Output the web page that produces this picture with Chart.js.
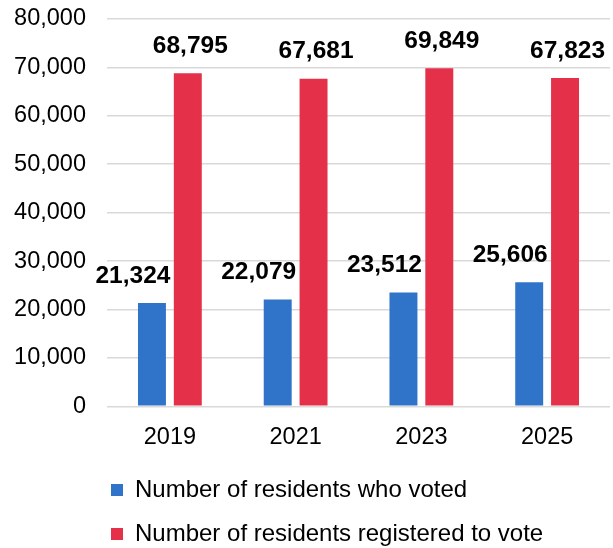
<!DOCTYPE html>
<html lang="en">
<head>
    <meta charset="UTF-8">
    <title>Residents voting</title>
    <script src="https://cdn.jsdelivr.net/npm/chart.js"></script>
    <style>
        html, body { margin: 0; padding: 0; background: #fff; }
        .box { width: 613px; height: 548px; }
    </style>
</head>
<body>
    <div class="box">
        <canvas id="grafico" width="613" height="548"></canvas>
    </div>
<script>
    // dados do grafico
    const anos = ["2019", "2021", "2023", "2025"];
    const votaram = [21324, 22079, 23512, 25606];
    const registrados = [68795, 67681, 69849, 67823];
    const ticksY = [0, 10000, 20000, 30000, 40000, 50000, 60000, 70000, 80000];

    const fonte = "'Liberation Sans', Arial, sans-serif";

    // rotulos em cima das barras (desenhados na mao)
    const rotulos = {
        id: 'rotulos',
        afterDatasetsDraw(chart, args, opts) {
            const ctx = chart.ctx;
            ctx.save();
            ctx.font = 'bold 24.5px ' + fonte;
            ctx.fillStyle = '#000';
            ctx.textAlign = 'center';
            ctx.textBaseline = 'middle';
            chart.data.datasets.forEach(function (ds, d) {
                const meta = chart.getDatasetMeta(d);
                const dx = opts.shift[d] || 0;
                meta.data.forEach(function (bar, i) {
                    const txt = ds.data[i].toLocaleString('en-US');
                    ctx.fillText(txt, bar.x + dx, bar.y - opts.lift);
                });
            });
            ctx.restore();
        }
    };

    // empurra a legenda pra ficar alinhada com o grafico
    const moveLegenda = {
        id: 'moveLegenda',
        afterLayout(chart) {
            chart.legend.left = chart.chartArea.left - 16;
        }
    };

    const config = {
        type: 'bar',
        data: {
            labels: anos,
            datasets: [{
                label: 'Number of residents who voted',
                data: votaram,
                backgroundColor: '#2F74C9'
            }, {
                label: 'Number of residents registered to vote',
                data: registrados,
                backgroundColor: '#E5304A'
            }]
        },
        options: {
            responsive: false,
            animation: false,
            layout: { padding: { left: 0, right: 3, top: 19, bottom: -8 } },
            datasets: {
                bar: { categoryPercentage: 0.57, barPercentage: 0.78 }
            },
            scales: {
                x: {
                    afterFit: function (axis) {
                        axis.height = axis.height - 10.5;
                    },
                    grid: { display: false, drawTicks: false },
                    border: { display: false },
                    ticks: { color: '#000', font: { family: fonte, size: 23.5 }, padding: 17 }
                },
                y: {
                    min: 0,
                    max: 80000,
                    afterBuildTicks: function (axis) {
                        axis.ticks = ticksY.map(function (v) { return { value: v }; });
                    },
                    afterFit: function (axis) {
                        axis.width = 107;
                        axis.paddingTop = 0;
                        axis.paddingBottom = 0;
                    },
                    grid: { color: '#d9d9d9', lineWidth: 1.5, drawTicks: false },
                    border: { display: false },
                    ticks: { color: '#000', font: { family: fonte, size: 23.5 }, padding: 21 }
                }
            },
            plugins: {
                tooltip: { enabled: false },
                legend: {
                    position: 'bottom',
                    align: 'start',
                    fullSize: false,
                    labels: {
                        color: '#000',
                        font: { family: fonte, size: 24 },
                        boxWidth: 12,
                        boxHeight: 12,
                        padding: 20
                    }
                },
                rotulos: { shift: [-19, 2.5], lift: 27 }
            }
        },
        plugins: [rotulos, moveLegenda]
    };

    let chartVotos = new Chart(document.getElementById('grafico'), config);
</script>
</body>
</html>
